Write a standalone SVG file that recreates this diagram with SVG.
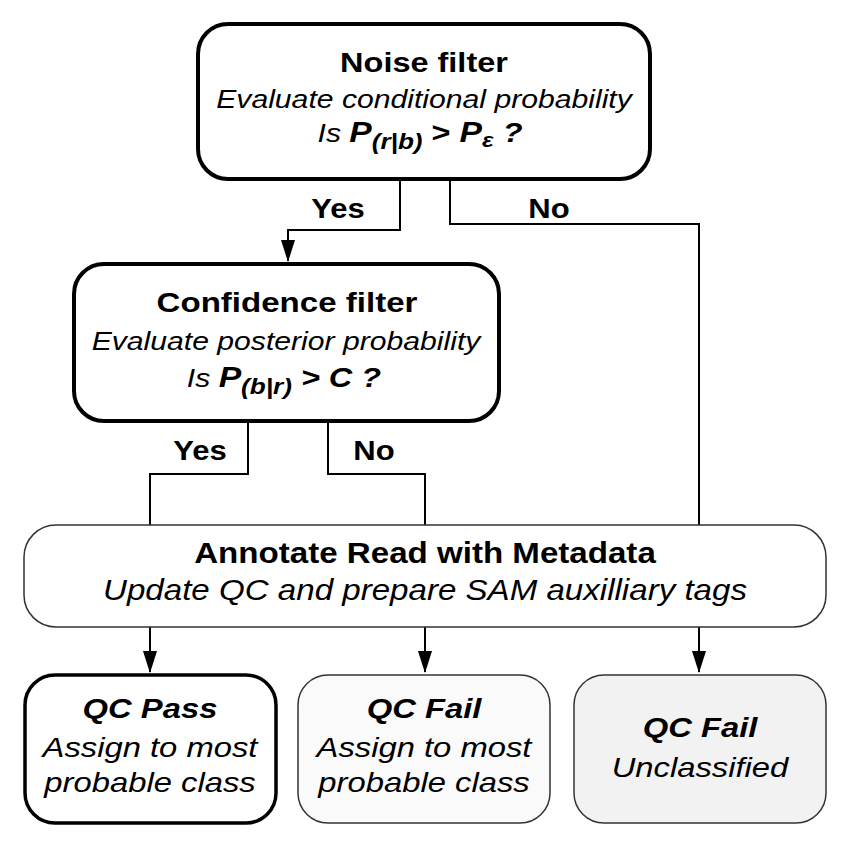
<svg xmlns="http://www.w3.org/2000/svg" width="850" height="849" viewBox="0 0 850 849">
<style>
text{font-family:"Liberation Sans",Arial,sans-serif;fill:#000;text-anchor:middle}
.b{font-weight:bold}
.i{font-style:italic}
.bi{font-weight:bold;font-style:italic}
.thick{fill:#fff;stroke:#000;stroke-width:4}
.thin{stroke:#333;stroke-width:1.5}
.conn{fill:none;stroke:#000;stroke-width:2}
</style>
<defs>
<marker id="arr" markerUnits="userSpaceOnUse" markerWidth="14" markerHeight="22" refX="7" refY="21" orient="0" viewBox="0 0 14 22">
<polygon points="0,0 14,0 7,22" fill="#000"/>
</marker>
</defs>
<rect width="850" height="849" fill="#fff"/>
<g id="connectors">
<path class="conn" d="M400,179 V230 H288 V261" marker-end="url(#arr)"/>
<path class="conn" d="M450,179 V224 H699 V525"/>
<path class="conn" d="M248,421 V474 H150 V525"/>
<path class="conn" d="M328,421 V474 H425 V525"/>
<path class="conn" d="M150,627 V672" marker-end="url(#arr)"/>
<path class="conn" d="M425,627 V672" marker-end="url(#arr)"/>
<path class="conn" d="M699,627 V672" marker-end="url(#arr)"/>
<text class="b" font-size="27" transform="translate(338,218) scale(1.15,1)">Yes</text>
<text class="b" font-size="27" transform="translate(549,218) scale(1.15,1)">No</text>
<text class="b" font-size="27" transform="translate(200,460) scale(1.15,1)">Yes</text>
<text class="b" font-size="27" transform="translate(374,460) scale(1.15,1)">No</text>
</g>
<g id="noise-filter">
<rect class="thick" x="198" y="24" width="452" height="155" rx="30"/>
<text class="b" font-size="28" transform="translate(424,72) scale(1.16,1)">Noise filter</text>
<text class="i" font-size="26" transform="translate(424,108) scale(1.16,1)">Evaluate conditional probability</text>
<text font-size="26" transform="translate(420,142) scale(1.16,1)"><tspan class="i">Is </tspan><tspan class="bi" font-size="29">P</tspan><tspan class="bi" font-size="22.5" dy="7">(r|b)</tspan><tspan class="b" font-size="28" dy="-7"> &gt; </tspan><tspan class="bi" font-size="29">P</tspan><tspan class="bi" font-size="21" dy="5">ε</tspan><tspan class="bi" font-size="28" dy="-5"> ?</tspan></text>
</g>
<g id="confidence-filter">
<rect class="thick" x="74" y="264" width="425" height="157" rx="30"/>
<text class="b" font-size="28.5" transform="translate(287,312) scale(1.16,1)">Confidence filter</text>
<text class="i" font-size="26" transform="translate(286,350) scale(1.16,1)">Evaluate posterior probability</text>
<text font-size="26" transform="translate(284,387) scale(1.16,1)"><tspan class="i">Is </tspan><tspan class="bi" font-size="29">P</tspan><tspan class="bi" font-size="22.5" dy="7">(b|r)</tspan><tspan class="bi" font-size="28" dy="-7"> &gt; C ?</tspan></text>
</g>
<g id="annotate">
<rect class="thin" fill="#fff" x="24" y="525" width="802" height="102" rx="32"/>
<text class="b" font-size="28.8" transform="translate(425,563) scale(1.15,1)">Annotate Read with Metadata</text>
<text class="i" font-size="28.8" transform="translate(425,600) scale(1.15,1)">Update QC and prepare SAM auxilliary tags</text>
</g>
<g id="qc-pass">
<rect class="thick" style="stroke-width:3.5" x="25" y="675" width="251" height="148" rx="30"/>
<text class="bi" font-size="28.5" transform="translate(150,718) scale(1.15,1)">QC Pass</text>
<text class="i" font-size="28.5" transform="translate(150,757) scale(1.15,1)">Assign to most</text>
<text class="i" font-size="28.5" transform="translate(150,792) scale(1.15,1)">probable class</text>
</g>
<g id="qc-fail-assigned">
<rect class="thin" fill="#fafafa" x="298" y="675" width="252" height="148" rx="30"/>
<text class="bi" font-size="28.5" transform="translate(424,718) scale(1.15,1)">QC Fail</text>
<text class="i" font-size="28.5" transform="translate(424,757) scale(1.15,1)">Assign to most</text>
<text class="i" font-size="28.5" transform="translate(424,792) scale(1.15,1)">probable class</text>
</g>
<g id="qc-fail-unclassified">
<rect class="thin" fill="#f2f2f2" x="574" y="675" width="252" height="148" rx="30"/>
<text class="bi" font-size="28.5" transform="translate(700,737) scale(1.15,1)">QC Fail</text>
<text class="i" font-size="28.5" transform="translate(700,777) scale(1.15,1)">Unclassified</text>
</g>
</svg>
